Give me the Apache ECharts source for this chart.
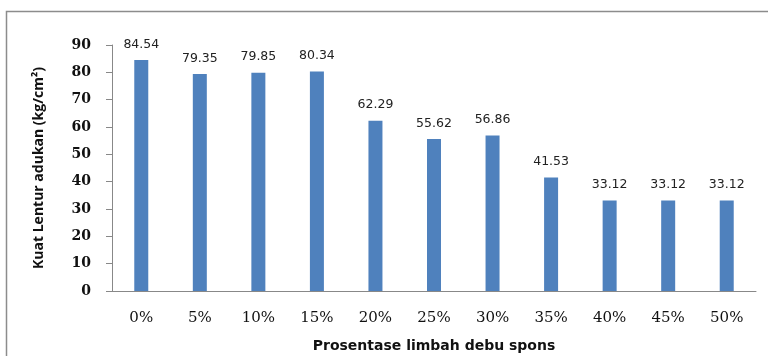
<!DOCTYPE html>
<html>
<head>
<meta charset="utf-8">
<script src="https://cdn.jsdelivr.net/npm/echarts@6/dist/echarts.min.js"></script>
<style>html,body{margin:0;padding:0;background:#fff}#chart{width:768px;height:356px}</style>
</head>
<body>
<div id="chart"></div>
<script>
var myChart = echarts.init(document.getElementById('chart'));

var categories = ['0%', '5%', '10%', '15%', '20%', '25%', '30%', '35%', '40%', '45%', '50%'];
var values = [84.54, 79.35, 79.85, 80.34, 62.29, 55.62, 56.86, 41.53, 33.12, 33.12, 33.12];
var labels = ['84.54', '79.35', '79.85', '80.34', '62.29', '55.62', '56.86', '41.53', '33.12', '33.12', '33.12'];

var option = {
  animation: false,
  graphic: [{
    type: 'rect',
    shape: { x: 6.5, y: 11.5, width: 780, height: 380 },
    style: { fill: 'none', stroke: '#8c8c8c', lineWidth: 1.5 }
  }],
  grid: { left: 112, right: 12, top: 45, bottom: 65, outerBoundsMode: 'none', containLabel: false },
  xAxis: {
    type: 'category',
    data: categories,
    name: 'Prosentase limbah debu spons',
    nameLocation: 'middle',
    nameGap: 48,
    nameTextStyle: { fontFamily: 'DejaVu Sans', fontWeight: 'bold', fontSize: 14, color: '#111' },
    axisLine: { lineStyle: { color: '#888' } },
    axisTick: { show: false },
    axisLabel: { fontFamily: 'DejaVu Serif', fontSize: 15, color: '#111', margin: 20 }
  },
  yAxis: {
    type: 'value',
    min: 0,
    max: 90,
    interval: 10,
    name: 'Kuat Lentur adukan (kg/cm²)',
    nameLocation: 'middle',
    nameGap: 66,
    nameTextStyle: { fontFamily: 'Open Sans', fontWeight: 'bold', fontSize: 14, color: '#111' },
    axisLine: { show: true, lineStyle: { color: '#888' } },
    axisTick: { show: true, length: 6, lineStyle: { color: '#888' } },
    splitLine: { show: false },
    axisLabel: { fontFamily: 'DejaVu Serif', fontWeight: 'bold', fontSize: 14, color: '#111', margin: 21 }
  },
  series: [{
    type: 'bar',
    data: values,
    barWidth: 14,
    itemStyle: { color: '#4f81bd' },
    label: {
      show: true,
      position: 'top',
      distance: 9,
      fontFamily: 'DejaVu Sans',
      fontSize: 12.5,
      color: '#222',
      formatter: function (p) { return labels[p.dataIndex]; }
    }
  }]
};

myChart.setOption(option);
</script>
</body>
</html>
